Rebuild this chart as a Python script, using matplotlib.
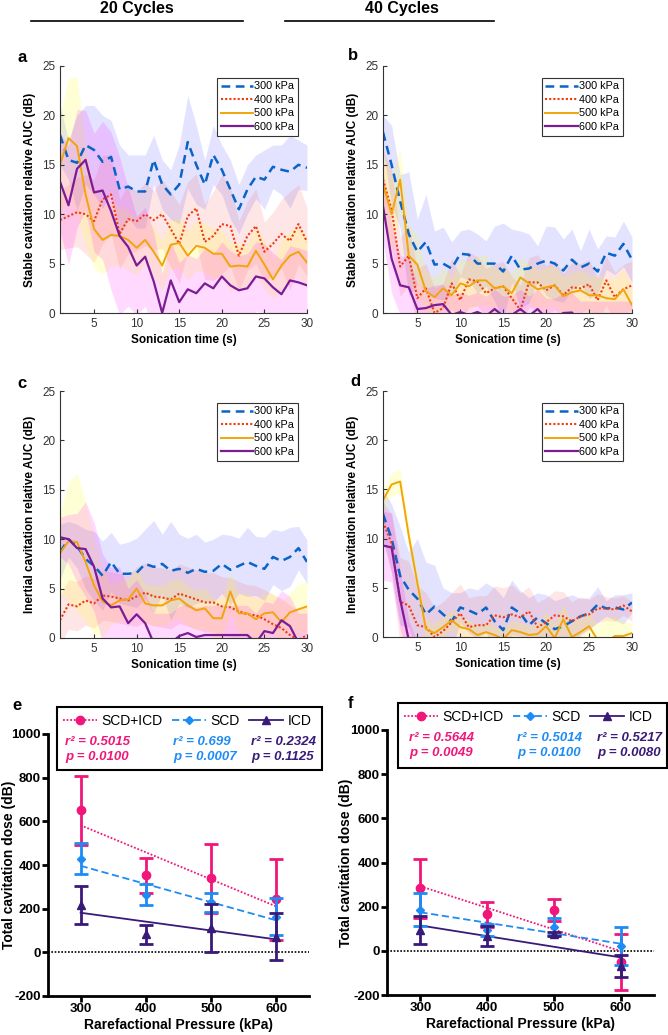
# Cavitation dose figure: AUC over sonication time (a-d) and total dose vs pressure (e-f)
import numpy as np
import matplotlib
matplotlib.use("Agg")
import matplotlib.pyplot as plt
from matplotlib.lines import Line2D
from matplotlib.patches import Rectangle

plt.rcParams['font.family'] = ['Liberation Sans', 'DejaVu Sans']
plt.rcParams['axes.unicode_minus'] = False

# ---- time series data (mean and sd per second) ----
t = np.arange(1, 31)
pressures = ['300 kPa', '400 kPa', '500 kPa', '600 kPa']

# panel a : stable, 20 cycles
a_300 = [18.0,15.5,15.2,17.0,16.5,15.3,15.8,12.5,12.8,12.3,12.3,15.5,13.0,12.0,13.0,17.3,15.0,13.0,16.0,14.5,12.5,10.5,12.5,13.8,13.5,14.8,14.5,14.3,15.0,14.7]
a_300_sd = [3.0,2.0,4.8,4.0,4.5,4.7,3.7,4.5,3.2,3.7,3.7,2.5,2.5,2.5,4.0,4.7,4.0,2.5,3.0,2.5,3.0,2.5,2.5,2.2,3.0,2.2,2.5,3.7,2.5,2.3]
a_400 = [9.4,9.8,10.2,10.0,9.3,11.5,12.0,8.0,9.5,9.3,10.0,9.4,10.0,8.5,7.0,9.8,10.6,7.2,7.8,9.0,8.8,5.8,7.8,8.8,6.2,7.0,8.0,7.3,9.0,7.2]
a_400_sd = [3.0,3.2,3.5,4.0,4.2,4.5,4.0,3.5,3.5,3.0,3.2,3.0,3.5,3.8,4.0,3.5,3.5,3.8,4.5,5.0,4.0,3.5,3.5,3.8,3.0,3.2,3.5,5.0,4.0,3.5]
a_500 = [15.0,17.7,16.9,12.0,8.5,7.4,7.9,7.8,7.4,6.6,7.4,6.2,4.8,6.9,7.1,5.8,6.8,6.6,6.0,6.0,4.7,4.8,4.7,6.3,4.9,3.4,4.8,5.8,6.2,5.1]
a_500_sd = [5.0,6.0,7.0,5.0,4.0,3.5,3.2,3.0,3.0,2.8,2.5,2.5,2.5,2.5,2.5,2.5,2.5,2.5,2.5,2.5,2.5,2.2,2.2,2.5,2.5,2.0,2.5,2.5,2.5,2.5]
a_600 = [13.3,10.9,14.6,15.5,12.2,12.4,10.3,7.8,6.7,4.8,5.7,3.2,0.0,3.3,1.1,2.4,2.0,3.0,2.5,3.7,2.8,2.3,2.5,3.7,3.5,2.6,1.9,3.3,3.1,2.8]
a_600_sd = [5.0,6.0,6.0,5.0,6.0,7.0,8.0,8.0,6.0,5.0,5.0,5.0,4.0,4.0,4.0,3.5,3.5,3.5,3.5,3.5,3.5,3.5,3.5,3.5,3.5,3.5,3.5,3.5,3.5,3.5]

# panel b : stable, 40 cycles
b_300 = [18.3,15.0,11.3,8.0,6.2,7.2,4.9,5.0,4.5,6.0,5.9,5.0,5.0,5.0,4.2,5.8,4.4,4.5,5.0,5.3,5.0,4.3,5.4,4.6,5.0,4.2,6.1,5.8,7.0,5.4]
b_300_sd = [1.7,4.0,2.7,6.3,3.3,4.8,3.4,3.7,2.7,2.3,2.6,3.0,2.3,3.8,4.9,2.7,3.9,3.5,1.8,3.5,3.7,3.2,3.1,1.7,3.5,2.3,1.7,1.9,2.3,2.3]
b_400 = [13.5,10.5,4.7,5.8,1.5,2.5,0.0,0.5,3.0,1.3,3.4,3.2,2.0,2.5,2.7,1.5,0.3,3.1,3.1,2.3,2.8,1.8,2.6,2.5,2.9,1.3,3.3,1.6,2.4,2.8]
b_400_sd = [3.0,4.0,3.0,3.0,3.0,2.5,2.5,2.5,2.5,2.5,2.8,2.5,2.5,2.5,2.5,2.2,2.5,2.5,2.8,2.5,2.5,2.2,2.5,2.5,2.5,2.2,2.5,2.5,2.5,2.5]
b_500 = [13.0,10.0,13.5,5.8,4.9,2.2,1.6,2.5,1.8,3.0,2.7,3.3,3.3,2.5,2.7,2.0,3.6,3.0,2.4,2.6,2.8,1.7,2.1,2.3,1.8,1.8,1.5,1.4,2.4,0.8]
b_500_sd = [3.0,4.0,3.0,3.0,3.0,2.0,2.0,2.0,2.0,2.5,2.5,2.5,2.5,2.0,2.0,2.0,2.0,2.0,2.0,2.0,2.0,2.0,2.0,2.0,2.0,2.0,2.0,2.0,2.0,2.0]
b_600 = [10.8,5.5,2.8,2.6,0.4,0.5,0.8,0.9,-0.2,0.1,-0.2,0.1,-0.3,0.4,-0.3,-0.2,0.4,-0.3,0.4,-0.5,-0.5,0.0,0.05,-0.8,-0.8,-0.8,-0.8,-0.8,-0.8,-0.8]
b_600_sd = [3.5,3.5,3.0,3.0,2.5,2.0,2.0,2.0,2.0,2.0,2.0,2.0,2.0,2.0,2.0,2.0,2.0,2.0,2.0,2.0,2.0,2.0,2.0,2.0,2.0,2.0,2.0,2.0,2.0,2.0]

# panel c : inertial, 20 cycles
c_300 = [8.7,10.0,9.3,8.0,7.3,6.3,7.7,6.5,6.5,6.6,7.5,7.2,7.5,6.8,7.0,6.6,7.0,6.7,6.8,7.5,6.9,7.3,7.7,7.3,7.0,8.2,7.8,8.2,9.1,7.7]
c_300_sd = [2.8,1.8,2.2,3.0,3.5,3.5,3.0,3.0,3.2,3.5,3.5,4.7,3.0,5.0,3.5,3.5,3.5,3.0,3.2,3.0,3.5,2.8,3.5,3.0,3.2,2.8,3.0,3.0,2.2,2.2]
c_400 = [1.8,3.4,3.2,3.8,3.5,4.3,4.2,4.0,3.8,4.2,4.6,4.2,4.1,3.9,4.5,4.2,3.9,3.6,3.6,3.2,3.1,2.7,2.4,2.3,1.9,1.4,1.0,0.3,-0.2,0.3]
c_400_sd = [2.5,2.5,2.5,2.5,2.5,2.5,2.5,2.5,2.5,3.0,3.0,3.0,3.0,3.0,3.0,3.0,3.0,3.0,3.0,3.0,3.0,3.0,3.0,3.0,3.0,3.0,3.0,3.0,3.0,3.0]
c_500 = [8.6,9.8,9.7,7.7,5.3,3.7,3.3,3.8,3.9,5.0,3.5,3.3,3.3,3.8,4.0,3.3,2.8,3.0,2.0,2.0,4.7,2.5,2.5,1.9,2.5,2.6,1.6,2.6,2.9,3.2]
c_500_sd = [4.0,6.0,7.0,6.0,5.0,3.5,2.0,2.0,2.0,2.0,2.0,2.0,2.0,2.0,2.0,2.0,2.0,2.0,2.0,2.0,2.0,2.0,2.0,2.0,2.0,2.0,2.0,2.0,2.5,2.5]
c_600 = [10.2,10.0,9.1,9.0,7.2,4.0,3.1,3.2,1.5,2.4,1.5,-0.5,-0.5,-0.5,0.2,0.5,0.1,0.3,0.3,0.3,0.3,0.3,0.3,-0.5,0.7,0.5,1.8,1.2,-0.5,-0.5]
c_600_sd = [2.0,2.5,3.5,4.8,4.5,4.5,4.0,4.0,3.5,3.5,3.0,3.0,3.0,3.0,3.0,3.0,3.0,3.0,3.0,3.0,3.0,3.0,3.0,3.0,3.0,3.0,3.0,3.0,3.0,3.0]

# panel d : inertial, 40 cycles
d_300 = [12.5,10.0,6.2,4.8,3.9,2.3,3.1,2.3,1.6,3.0,2.7,2.3,3.0,1.6,0.7,3.0,2.4,1.2,2.0,1.4,0.8,1.1,1.6,2.1,2.4,3.3,2.9,3.0,2.8,3.5]
d_300_sd = [2.5,3.5,5.0,3.8,6.1,5.3,4.2,2.7,2.9,1.5,2.3,2.5,2.5,3.4,3.3,2.8,2.3,2.8,2.5,2.9,2.9,2.9,2.7,1.8,1.6,1.8,0.8,1.3,1.5,1.0]
d_400 = [11.7,9.5,3.6,3.2,1.2,1.0,0.0,0.6,1.5,2.4,1.0,1.2,1.2,2.2,2.0,2.3,2.0,2.6,1.0,1.5,2.2,2.1,1.6,2.1,2.3,2.9,2.9,2.8,3.2,2.6]
d_400_sd = [2.0,3.0,4.5,4.5,4.0,3.5,3.0,3.0,3.0,3.0,3.0,3.0,3.0,3.0,3.0,3.0,2.5,2.5,2.5,2.5,2.5,2.5,2.0,2.0,1.5,1.5,1.2,1.2,1.0,1.0]
d_500 = [13.9,15.5,15.8,10.3,5.5,0.8,0.4,1.0,1.7,1.0,0.8,0.2,0.5,0.2,-0.2,0.7,0.5,0.2,0.3,1.1,-0.1,1.8,0.0,0.5,1.1,-0.3,-0.5,0.1,0.1,0.4]
d_500_sd = [1.0,1.2,1.2,1.2,1.2,1.0,1.0,1.0,1.0,1.0,1.0,1.0,1.0,1.0,1.0,1.0,1.0,1.0,1.0,1.5,1.5,1.5,1.5,1.5,1.5,1.5,2.5,2.0,1.5,1.0]
d_600 = [9.3,9.1,3.8,-0.3,-1.0,-1.0,-1.0,-1.0,-1.0,-1.0,-1.0,-1.0,-1.0,-1.0,-1.0,-1.0,-1.0,-1.0,-1.0,-1.0,-1.0,-1.0,-1.0,-1.0,-1.0,-1.0,-1.0,-1.0,-1.0,-1.0]
d_600_sd = [3.5,3.5,3.0,2.0,0.5,0.5,0.5,0.5,0.5,0.5,0.5,0.5,0.5,0.5,0.5,0.5,0.5,0.5,0.5,0.5,0.5,0.5,0.5,0.5,0.5,0.5,0.5,0.5,0.5,0.5]

# ---- dose vs pressure data ----
kpa = [300, 400, 500, 600]
e_sum = [651, 352, 339, 242]; e_sum_sd = [158, 82, 158, 185]
e_scd = [429, 264, 229, 163]; e_scd_sd = [71, 49, 43, 85]
e_icd = [217, 82, 110, 72];   e_icd_sd = [88, 45, 110, 108]
f_sum = [283, 165, 185, -50]; f_sum_sd = [135, 56, 51, 128]
f_scd = [186, 95, 110, 23];   f_scd_sd = [75, 28, 40, 85]
f_icd = [95, 68, 75, -68];    f_icd_sd = [62, 45, 10, 50]
e_stats = [('0.5015', '0.0100'), ('0.699', '0.0007'), ('0.2324', '0.1125')]
f_stats = [('0.5644', '0.0049'), ('0.5014', '0.0100'), ('0.5217', '0.0080')]

# styles
line_col = ['#0a64c8', '#f23a0c', '#f2a40a', '#7a1c94']
band_col = ['#0000ff', '#ff2020', '#ffff00', '#ff00ff']
band_alpha = [0.11, 0.11, 0.16, 0.15]
line_ls = [(0, (3.5, 2.2)), (0, (1, 1)), '-', '-']
line_lw = [1.8, 1.5, 1.4, 1.6]
dose_col = ['#f0167a', '#1e8cf5', '#3a1a78']
axc = '#333333'

fig = plt.figure(figsize=(6.68, 10.35), dpi=100)
W, H = 668.0, 1035.0

def rect(l, r, top, bot):
    return [l / W, 1 - bot / H, (r - l) / W, (bot - top) / H]

def time_panel(box, series, ylabel):
    ax = fig.add_axes(box)
    for i, (m, s) in enumerate(series):
        m = np.array(m); s = np.array(s)
        ax.fill_between(t, m - s, m + s, color=band_col[i], alpha=band_alpha[i], lw=0)
    for i, (m, s) in enumerate(series):
        ax.plot(t, m, color=line_col[i], ls=line_ls[i], lw=line_lw[i], label=pressures[i])
    ax.set_xlim(1, 30)
    ax.set_ylim(0, 25)
    ax.set_xticks([5, 10, 15, 20, 25, 30])
    ax.set_yticks([0, 5, 10, 15, 20, 25])
    for sp in ['top', 'right']:
        ax.spines[sp].set_visible(False)
    for sp in ['left', 'bottom']:
        ax.spines[sp].set_color(axc)
        ax.spines[sp].set_linewidth(0.8)
    ax.tick_params(direction='in', length=3, width=0.8, colors=axc, labelsize=8.5)
    ax.set_xlabel('Sonication time (s)', fontsize=8.5, fontweight='bold', labelpad=3)
    ax.set_ylabel(ylabel, fontsize=8.5, fontweight='bold', labelpad=4)
    leg = ax.legend(loc='upper right', bbox_to_anchor=(0.985, 0.975), fontsize=7.8,
                    fancybox=False, edgecolor=axc, framealpha=1, borderpad=0.35,
                    labelspacing=0.32, handlelength=3.0, handletextpad=0.1)
    leg.get_frame().set_linewidth(0.8)
    return ax

time_panel(rect(60, 307, 66, 313), [(a_300, a_300_sd), (a_400, a_400_sd), (a_500, a_500_sd), (a_600, a_600_sd)],
           'Stable cavitation relative AUC (dB)')
time_panel(rect(383, 632, 66, 313), [(b_300, b_300_sd), (b_400, b_400_sd), (b_500, b_500_sd), (b_600, b_600_sd)],
           'Stable cavitation relative AUC (dB)')
time_panel(rect(60, 307, 391, 638), [(c_300, c_300_sd), (c_400, c_400_sd), (c_500, c_500_sd), (c_600, c_600_sd)],
           'Inertial cavitation relative AUC (dB)')
time_panel(rect(383, 632, 391, 637), [(d_300, d_300_sd), (d_400, d_400_sd), (d_500, d_500_sd), (d_600, d_600_sd)],
           'Inertial cavitation relative AUC (dB)')

def dose_panel(box, groups, stats, leg_x, stat_x, box_x, ylab_x):
    ax = fig.add_axes(box)
    ax.axhline(0, color='black', ls=(0, (1, 1)), lw=1.2, zorder=1)
    fit_ls = [(0, (1, 1)), (0, (4, 2)), '-']
    markers = ['o', 'D', '^']
    msizes = [6, 4, 5.5]
    for i, (m, s) in enumerate(groups):
        ax.errorbar(kpa, m, yerr=s, fmt=markers[i], color=dose_col[i], ms=msizes[i],
                    elinewidth=2, capsize=5, capthick=2, zorder=3 + i)
        k, b = np.polyfit(kpa, m, 1)
        xs = np.array([300, 600])
        ax.plot(xs, k * xs + b, color=dose_col[i], ls=fit_ls[i], lw=1.3, zorder=2)
    ax.set_xlim(250, 650)
    ax.set_ylim(-200, 1000)
    ax.set_xticks(kpa)
    ax.set_yticks(range(-200, 1001, 200))
    for sp in ['top', 'right']:
        ax.spines[sp].set_visible(False)
    for sp in ['left', 'bottom']:
        ax.spines[sp].set_linewidth(2)
    ax.tick_params(direction='out', length=4, width=2, labelsize=9.5, pad=1)
    for lab in ax.get_xticklabels() + ax.get_yticklabels():
        lab.set_fontweight('bold')
    ax.set_xlabel('Rarefactional Pressure (kPa)', fontsize=10, fontweight='bold', labelpad=2)
    ax.set_ylabel('Total cavitation dose (dB)', fontsize=10, fontweight='bold')
    ax.yaxis.set_label_coords(ylab_x, 0.5)

    # legend box with fit statistics
    ax.add_patch(Rectangle((box_x[0], box_x[2]), box_x[1] - box_x[0], box_x[3] - box_x[2],
                           transform=ax.transAxes, fill=True, facecolor='white',
                           edgecolor='black', lw=1.5, clip_on=False, zorder=10))
    names = ['SCD+ICD', 'SCD', 'ICD']
    handles = [Line2D([], [], color=dose_col[i], ls=fit_ls[i], marker=markers[i], ms=msizes[i], lw=1.3)
               for i in range(3)]
    leg = ax.legend(handles, names, ncol=3, loc='center left', bbox_to_anchor=(leg_x, 1.05),
                    frameon=False, fontsize=10, handlelength=2.45, handletextpad=0.3,
                    columnspacing=0.7, borderpad=0, borderaxespad=0)
    leg.set_zorder(11)
    for i, (r2, p) in enumerate(stats):
        ax.text(stat_x[i], 0.97, 'r² = ' + r2, transform=ax.transAxes, color=dose_col[i],
                fontsize=9.5, fontweight='bold', style='italic', va='center', zorder=12)
        ax.text(stat_x[i], 0.912, 'p = ' + p, transform=ax.transAxes, color=dose_col[i],
                fontsize=9.5, fontweight='bold', style='italic', va='center', zorder=12)
    return ax

dose_panel(rect(48, 309, 734, 996), [(e_sum, e_sum_sd), (e_scd, e_scd_sd), (e_icd, e_icd_sd)],
           e_stats, 0.057, [0.065, 0.479, 0.778], (0.034, 1.05, 0.863, 1.103), -0.122)
dose_panel(rect(387, 654, 730, 995), [(f_sum, f_sum_sd), (f_scd, f_scd_sd), (f_icd, f_icd_sd)],
           f_stats, 0.064, [0.082, 0.487, 0.787], (0.041, 1.049, 0.857, 1.102), -0.127)

# column headings
fig.text(137 / W, 1 - 9 / H, '20 Cycles', ha='center', va='center', fontsize=11.5, fontweight='bold')
fig.text(402 / W, 1 - 9 / H, '40 Cycles', ha='center', va='center', fontsize=11.5, fontweight='bold')
fig.add_artist(Line2D([31 / W, 243 / W], [1 - 21 / H] * 2, color='black', lw=1.2))
fig.add_artist(Line2D([285 / W, 494 / W], [1 - 21 / H] * 2, color='black', lw=1.2))

# panel letters
for lab, x, y in [('a', 22, 57), ('b', 353, 55), ('c', 22, 383), ('d', 355, 382), ('e', 17, 705), ('f', 350, 703)]:
    fig.text(x / W, 1 - y / H, lab, ha='center', va='center', fontsize=12, fontweight='bold')

fig.savefig('out.png', dpi=100)
